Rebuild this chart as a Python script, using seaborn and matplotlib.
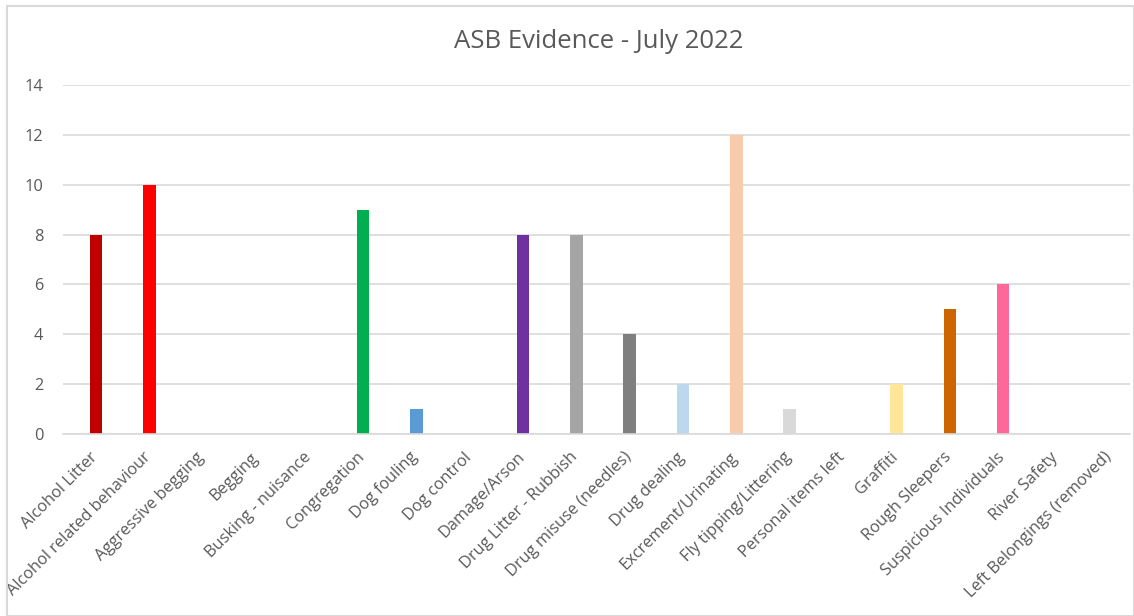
import matplotlib
matplotlib.use("Agg")
import matplotlib.pyplot as plt
from matplotlib.patches import Rectangle
from matplotlib.transforms import ScaledTranslation
import seaborn as sns
import pandas as pd

categories = ['Alcohol Litter', 'Alcohol related behaviour', 'Aggressive begging', 'Begging',
              'Busking - nuisance', 'Congregation', 'Dog fouling', 'Dog control', 'Damage/Arson',
              'Drug Litter - Rubbish', 'Drug misuse (needles)', 'Drug dealing',
              'Excrement/Urinating', 'Fly tipping/Littering', 'Personal items left', 'Graffiti',
              'Rough Sleepers', 'Suspicious Individuals', 'River Safety', 'Left Belongings (removed)']
counts = [8, 10, 0, 0, 0, 9, 1, 0, 8, 8, 4, 2, 12, 1, 0, 2, 5, 6, 0, 0]
bar_colors = ['#C00000', '#FF0000', '#A5A5A5', '#A5A5A5', '#A5A5A5', '#00B050', '#5B9BD5',
              '#A5A5A5', '#7030A0', '#A5A5A5', '#7F7F7F', '#BDD7EE', '#F8CBAD', '#D9D9D9',
              '#A5A5A5', '#FFE699', '#CC6600', '#FF6699', '#A5A5A5', '#A5A5A5']

df = pd.DataFrame({'category': categories, 'count': counts})

sns.set_style('white')
plt.rcParams['font.family'] = ['Open Sans', 'DejaVu Sans']

fig = plt.figure(figsize=(11.34, 6.16), dpi=100)
fig.patches.append(Rectangle((7 / 1134, 0), 1 - 7 / 1134, 1 - 6 / 616, transform=fig.transFigure,
                             fill=False, edgecolor='#D9D9D9', linewidth=1.5))
ax = fig.add_axes([63 / 1134, 1 - 434 / 616, (1130 - 63) / 1134, (434 - 85) / 616])

sns.barplot(data=df, x='category', y='count', hue='category', palette=bar_colors,
            dodge=False, legend=False, width=0.234, saturation=1, linewidth=0, ax=ax)

ax.set_ylim(0, 14)
ax.set_yticks(range(0, 15, 2))
ax.set_xlim(-0.622, 19.378)
ax.yaxis.grid(True, color='#D9D9D9', linewidth=1.2)
ax.set_axisbelow(True)
for side in ['top', 'right', 'left']:
    ax.spines[side].set_visible(False)
ax.spines['bottom'].set_color('#D9D9D9')
ax.spines['bottom'].set_linewidth(1.2)
ax.tick_params(axis='both', length=0, colors='#595959', labelsize=11.8)
ax.tick_params(axis='y', pad=14)
ax.tick_params(axis='x', pad=11)
shift = ScaledTranslation(-6.5 / 100, 0, fig.dpi_scale_trans)
for lab in ax.get_xticklabels():
    lab.set_rotation(45)
    lab.set_ha('right')
    lab.set_rotation_mode('anchor')
    lab.set_transform(lab.get_transform() + shift)
ax.set_xlabel('')
ax.set_ylabel('')

fig.text(0.528, 1 - 41 / 616, 'ASB Evidence - July 2022', ha='center', va='center',
         fontsize=18.5, color='#595959')

fig.savefig('out.png', dpi=100)
